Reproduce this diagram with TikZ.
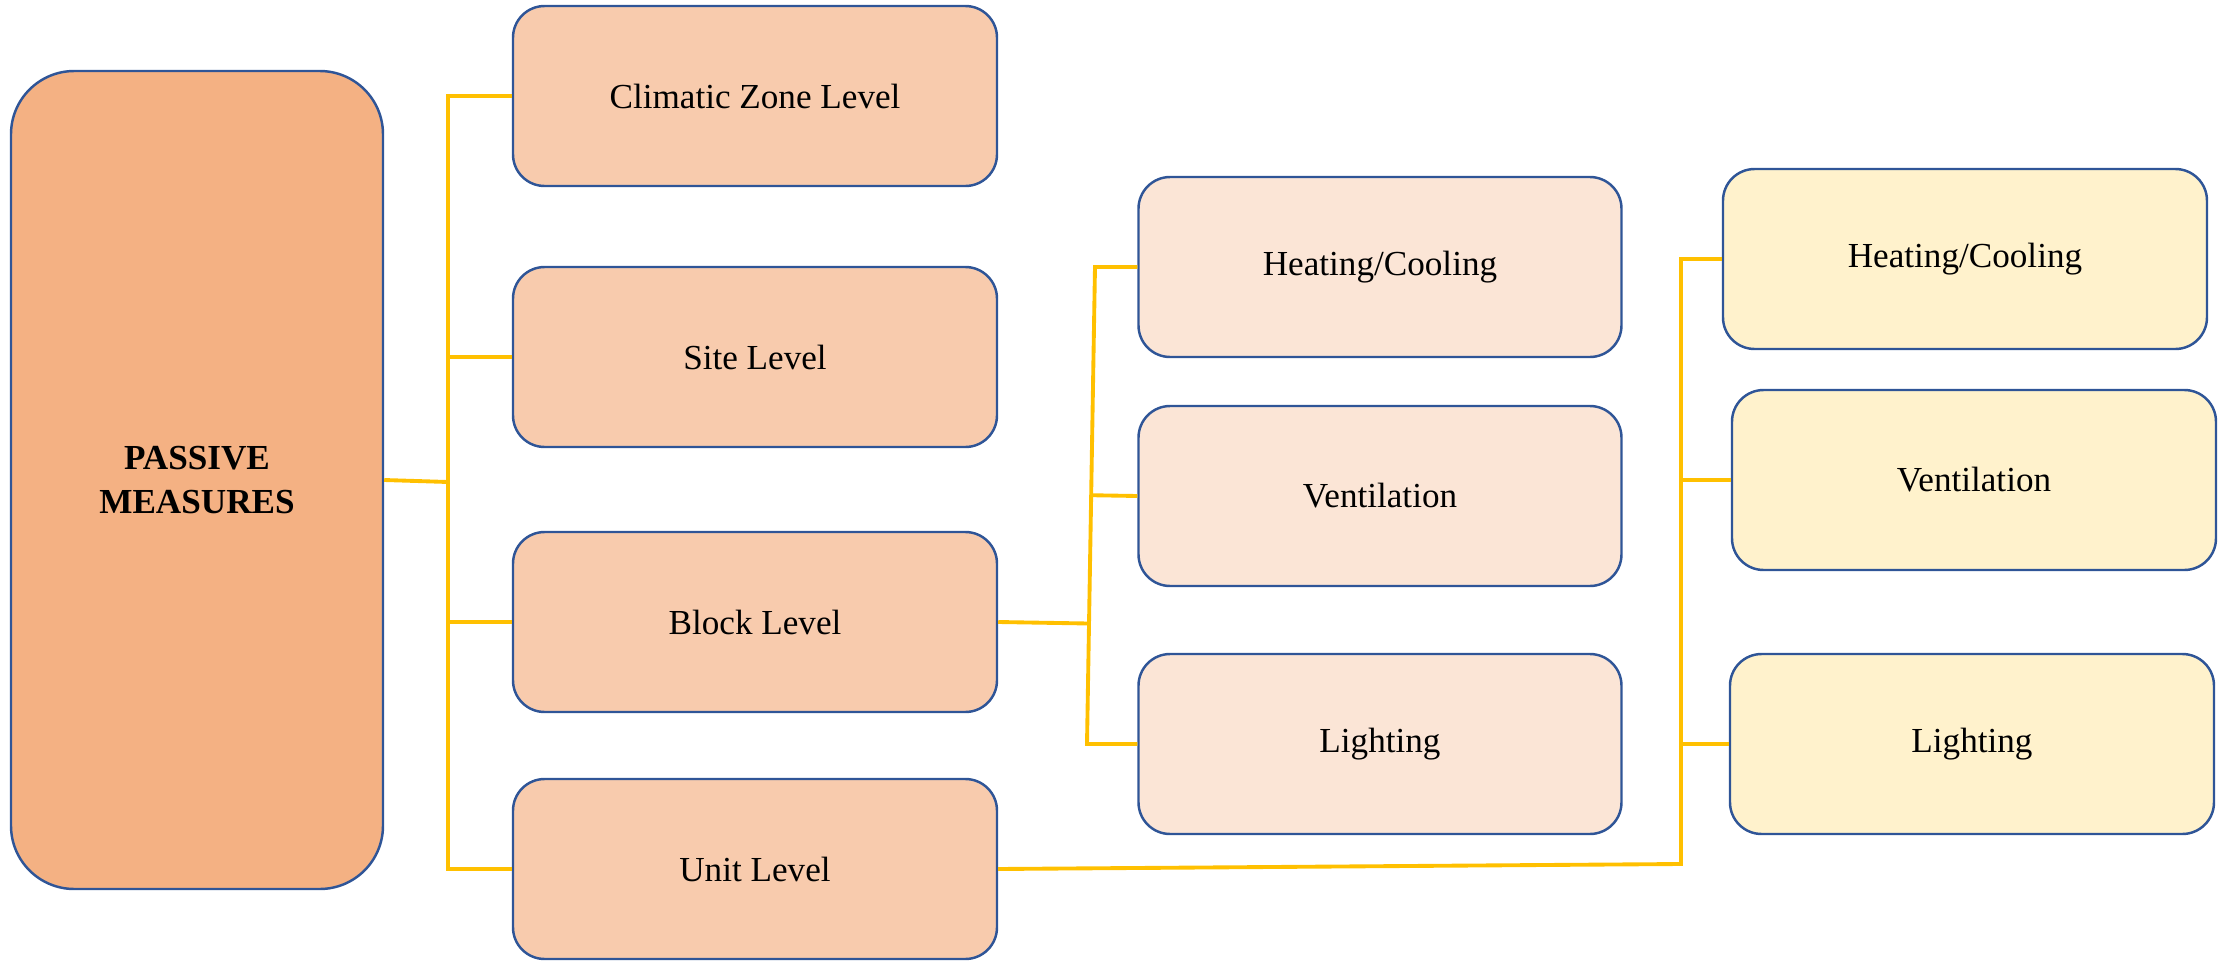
\documentclass[tikz,border=0pt]{standalone}
\usepackage{fontspec}
\setmainfont{Liberation Serif}
\usetikzlibrary{positioning,calc}
\definecolor{naranja}{HTML}{F4B183}
\definecolor{naranjaclaro}{HTML}{F8CBAD}
\definecolor{salmon}{HTML}{FBE5D6}
\definecolor{crema}{HTML}{FFF2CC}
\definecolor{borde}{HTML}{2F5597}
\definecolor{amarillo}{HTML}{FFC000}

\begin{document}
\begin{tikzpicture}[
      font=\fontsize{10}{12}\selectfont,
      b/.style={draw=borde, line width=0.7pt, rounded corners=9pt,
                minimum width=4.84cm, minimum height=1.80cm, align=center},
      raiz/.style={b, fill=naranja, rounded corners=18pt,
                   minimum width=3.72cm, minimum height=8.18cm, font=\fontsize{10}{12.5}\selectfont\bfseries},
      nivel/.style={b, fill=naranjaclaro},
      bloque/.style={b, fill=salmon, minimum width=4.83cm},
      unidad/.style={b, fill=crema},
      rama/.style={draw=amarillo, line width=1.1pt},
    ]
    \useasboundingbox (0,0) rectangle (22.24,9.6);

    % =============== NODOS ===============================================
    % --- Raiz ---
    \node[raiz] (pm) at (1.97,4.80) {PASSIVE\\MEASURES};

    % --- Niveles ---
    \node[nivel] (cz)    at (7.55,8.64) {Climatic Zone Level};
    \node[nivel] (site)  at (7.55,6.03) {Site Level};
    \node[nivel] (block) at (7.55,3.38) {Block Level};
    \node[nivel] (unit)  at (7.55,0.91) {Unit Level};

    % --- Nivel de bloque ---
    \node[bloque] (hcb) at (13.80,6.93) {Heating/Cooling};
    \node[bloque] (veb) at (13.80,4.64) {Ventilation};
    \node[bloque] (lib) at (13.80,2.16) {Lighting};

    % --- Nivel de unidad ---
    \node[unidad] (hcu) at (19.65,7.01) {Heating/Cooling};
    \node[unidad] (veu) at (19.74,4.80) {Ventilation};
    \node[unidad] (liu) at (19.72,2.16) {Lighting};

    % =============== RAMAS ===============================================
    % --- Raiz a niveles ---
    \coordinate (t1) at (4.48,4.78);
    \draw[rama] (pm.east) -- (t1);
    \draw[rama] (cz.west) -- (cz.west -| t1) -- (unit.west -| t1) -- (unit.west);
    \draw[rama] (site.west) -- (site.west -| t1);
    \draw[rama] (block.west) -- (block.west -| t1);

    % --- Bloque ---
    \coordinate (m1) at (10.95,6.93);
    \coordinate (m2) at (10.87,2.16);
    \draw[rama] (hcb.west) -- (m1) -- (m2) -- (lib.west);
    \draw[rama] (veb.west) -- ($(m1)!(veb.west)!(m2)$);
    \draw[rama] (block.east) -- ($(m1)!(block.east)!(m2)$);

    % --- Unidad ---
    \coordinate (r1) at (16.81,7.01);
    \coordinate (r2) at (16.81,0.96);
    \draw[rama] (hcu.west) -- (r1) -- (r2) -- (unit.east);
    \draw[rama] (veu.west) -- (veu.west -| r1);
    \draw[rama] (liu.west) -- (liu.west -| r1);
  \end{tikzpicture}
\end{document}
